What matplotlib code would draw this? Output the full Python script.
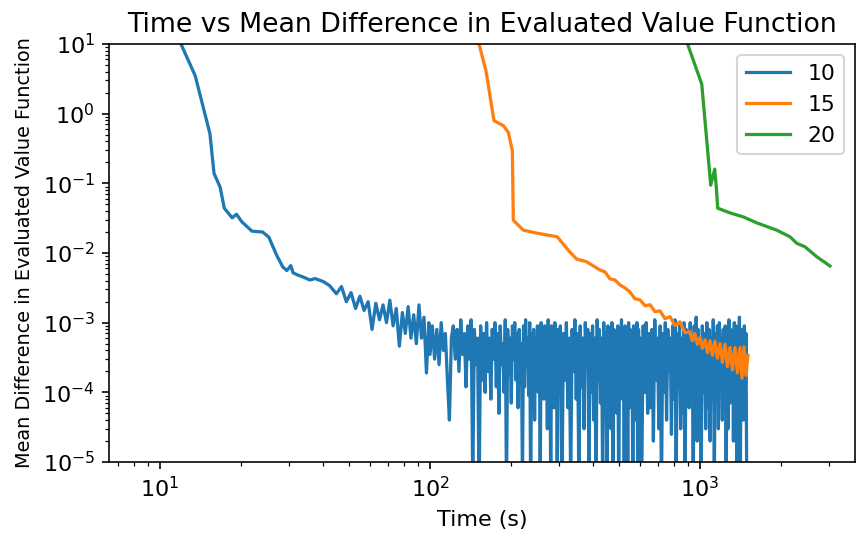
import numpy as np
import matplotlib
matplotlib.use("Agg")
import matplotlib.pyplot as plt

# series "10": smooth start ...
t10_start = [10.5, 11.5, 12.0, 13.5, 15.3, 15.85, 16.7, 17.3, 18.5, 19.2,
             20.1, 21.9, 24.0, 25.3, 27.0, 28.5, 29.5, 30.5, 31.1, 32.5,
             34.0, 35.9, 37.5, 40.2, 42.5]
v10_start = [40, 14, 9.7, 3.5, 0.52, 0.139, 0.088, 0.044, 0.032, 0.036,
             0.028, 0.0206, 0.0200, 0.0169, 0.0094, 0.0063, 0.0056, 0.0066, 0.0052, 0.0048,
             0.0045, 0.0041, 0.0043, 0.0039, 0.0034]

# ... then the noisy part, 45 s to 150 s
t10_mid = [45, 47, 49, 51, 53, 55, 57, 59, 61, 63, 65, 67, 69, 71,
           73, 75, 77, 79, 81, 83, 85, 87, 89, 91, 93, 95, 97, 99,
           100, 102, 104, 106, 108, 110, 112, 114, 116, 118,
           120, 122, 124, 126, 128, 130, 132, 134, 136, 138,
           140, 142, 144, 146, 148]
v10_mid = [2.6e-3, 3.3e-3, 2.0e-3, 2.7e-3, 1.6e-3, 2.4e-3, 1.5e-3, 2.0e-3, 0.8e-3, 1.9e-3,
           1.1e-3, 1.8e-3, 1.0e-3, 2.1e-3, 0.9e-3, 1.6e-3, 0.46e-3, 1.4e-3, 0.7e-3, 1.7e-3,
           0.6e-3, 1.3e-3, 0.5e-3, 1.8e-3, 0.6e-3, 1.2e-3, 0.19e-3, 1.0e-3,
           0.35e-3, 0.9e-3, 0.3e-3, 0.8e-3, 0.25e-3, 1.0e-3, 0.4e-3, 0.7e-3, 0.15e-3, 0.04e-3,
           0.6e-3, 0.9e-3, 0.3e-3, 0.8e-3, 0.2e-3, 1.1e-3, 0.35e-3, 0.7e-3, 0.12e-3, 0.9e-3,
           0.3e-3, 1.1e-3, 5e-6, 0.8e-3, 0.25e-3]

# ... and the dense noisy tail, 150 s to 1500 s
t10_tail = [150, 152, 154, 156, 158, 160, 162, 164, 166, 168,
            170, 172, 174, 176, 178, 180, 182, 184, 186, 188,
            190, 192, 194, 196, 198, 200, 202, 204, 206, 208,
            210, 212, 214, 216, 218, 220, 222, 224, 226, 228,
            230, 232, 234, 236, 238, 240, 242, 244, 246, 248,
            250, 252, 254, 256, 258, 260, 262, 264, 266, 268,
            270, 272, 274, 276, 278, 280, 282, 284, 286, 288,
            290, 292, 294, 296, 298,
            300, 304, 308, 312, 316, 320, 324, 328, 332, 336,
            340, 344, 348, 352, 356, 360, 364, 368, 372, 376,
            380, 384, 388, 392, 396, 400, 404, 408, 412, 416,
            420, 424, 428, 432, 436, 440, 444, 448, 452, 456,
            460, 464, 468, 472, 476, 480, 484, 488, 492, 496,
            500, 504, 508, 512, 516, 520, 524, 528, 532, 536,
            540, 544, 548, 552, 556, 560, 564, 568, 572, 576,
            580, 584, 588, 592, 596,
            600, 608, 616, 624, 632, 640, 648, 656, 664, 672,
            680, 688, 696, 704, 712, 720, 728, 736, 744, 752,
            760, 768, 776, 784, 792, 800, 808, 816, 824, 832,
            840, 848, 856, 864, 872, 880, 888, 896, 904, 912,
            920, 928, 936, 944, 952, 960, 968, 976, 984, 992,
            1000, 1010, 1020, 1030, 1040, 1050, 1060, 1070, 1080, 1090,
            1100, 1110, 1120, 1130, 1140, 1150, 1160, 1170, 1180, 1190,
            1200, 1210, 1220, 1230, 1240, 1250, 1260, 1270, 1280, 1290,
            1300, 1310, 1320, 1330, 1340, 1350, 1360, 1370, 1380, 1390,
            1400, 1410, 1420, 1430, 1440, 1450, 1460, 1470, 1480, 1490]
v10_tail = [6e-4, 3e-6, 9e-4, 1.5e-4, 7e-4, 1e-4, 1e-3, 2e-4, 6e-4, 8e-5,
            8e-4, 3e-4, 1e-3, 1.2e-4, 7e-4, 5e-5, 9e-4, 2.5e-4, 5e-4, 1e-4,
            1.1e-3, 4e-6, 8e-4, 1.8e-4, 6e-4, 7e-5, 9e-4, 3e-4, 1e-3, 1.5e-4,
            7e-4, 6e-5, 8e-4, 2e-4, 5e-4, 5e-6, 9e-4, 1.2e-4, 1.1e-3, 2.5e-4,
            6e-4, 9e-5, 1e-3, 3e-6, 7e-4, 1.5e-4, 8e-4, 4e-5, 6e-4, 2e-4,
            9e-4, 1e-4, 7e-4, 6e-6, 1e-3, 2.5e-4, 6e-4, 8e-5, 9e-4, 1.5e-4,
            8e-4, 3e-5, 1.1e-3, 2e-4, 6e-4, 4e-6, 9e-4, 1.2e-4, 7e-4, 6e-5,
            1e-3, 2e-4, 5e-4, 5e-6, 8e-4,
            1e-4, 9e-4, 3e-6, 7e-4, 1.5e-4, 1e-3, 6e-5, 6e-4, 5e-6, 8e-4,
            2e-4, 1.1e-3, 8e-5, 7e-4, 4e-6, 9e-4, 1.2e-4, 6e-4, 3e-5, 1e-3,
            2.5e-4, 8e-4, 6e-6, 7e-4, 1e-4, 9e-4, 4e-5, 6e-4, 3e-6, 1.1e-3,
            1.5e-4, 8e-4, 7e-5, 6e-4, 5e-6, 1e-3, 2e-4, 7e-4, 4e-6, 9e-4,
            1e-4, 6e-4, 3e-5, 1e-3, 6e-6, 8e-4, 1.8e-4, 7e-4, 5e-5, 9e-4,
            3e-6, 6e-4, 1.2e-4, 1.1e-3, 8e-5, 7e-4, 4e-6, 9e-4, 2e-4, 6e-4,
            5e-6, 1e-3, 6e-5, 8e-4, 1.5e-4, 7e-4, 3e-6, 9e-4, 1e-4, 6e-4,
            4e-5, 1e-3, 5e-6, 8e-4, 2e-4,
            6e-4, 4e-6, 9e-4, 1e-4, 1e-3, 5e-5, 7e-4, 6e-5, 8e-4, 2e-5,
            1.1e-3, 1.5e-4, 6e-4, 3e-5, 9e-4, 4e-6, 7e-4, 1e-4, 1e-3, 4e-5,
            8e-4, 2e-4, 6e-4, 2.5e-5, 9e-4, 8e-5, 1.1e-3, 5e-6, 7e-4, 1.2e-4,
            9e-4, 3e-5, 6e-4, 5e-5, 1e-3, 3e-6, 8e-4, 1.5e-4, 7e-4, 6e-5,
            1e-3, 1e-4, 6e-4, 4e-6, 9e-4, 7e-5, 1.2e-3, 2e-5, 8e-4, 2e-4,
            6e-4, 5e-6, 9e-4, 1e-4, 7e-4, 3e-5, 1e-3, 6e-5, 8e-4, 2e-5,
            6e-4, 1.5e-4, 1.1e-3, 6e-6, 7e-4, 8e-5, 9e-4, 3e-5, 1e-3, 2e-4,
            6e-4, 4e-5, 8e-4, 1e-4, 9e-4, 5e-6, 7e-4, 3e-5, 1.1e-3, 7e-5,
            8e-4, 1.2e-4, 6e-4, 2e-5, 1e-3, 7e-5, 9e-4, 4e-6, 7e-4, 1.5e-4,
            1.2e-3, 3e-6, 8e-4, 1e-4, 6e-4, 4e-5, 9e-4, 6e-5, 7e-4, 4e-6]

# series "15"
t15 = [148, 153, 161.2, 172.6, 186.8, 195.0, 201.8, 203.5, 221.6, 251.8,
       296, 325, 349, 380, 426, 445, 464, 484, 505, 527,
       550, 574, 599, 626, 653, 681, 711, 742, 774, 808,
       843, 879, 918, 937, 957, 978, 1000, 1021, 1044, 1066,
       1089, 1112, 1136, 1160, 1186, 1211, 1238, 1264, 1291, 1319,
       1348, 1376, 1406, 1430, 1455, 1480, 1506]
v15 = [13, 9.0, 4.11, 0.794, 0.674, 0.541, 0.296, 0.0296, 0.0213, 0.0191,
       0.0171, 0.0110, 0.0082, 0.0075, 0.00571, 0.00535, 0.00425, 0.00411, 0.00349, 0.00316,
       0.00277, 0.0022, 0.00213, 0.00175, 0.00181, 0.00144, 0.00148, 0.00114, 0.00122, 0.00091,
       0.00103, 0.00072, 7.4e-4, 5.5e-4, 7.0e-4, 4.9e-4, 6.1e-4, 4.3e-4, 5.7e-4, 3.7e-4,
       5.5e-4, 3.4e-4, 5.4e-4, 3.1e-4, 5.0e-4, 2.7e-4, 4.9e-4, 2.35e-4, 4.4e-4, 2.1e-4,
       4.4e-4, 1.9e-4, 4.4e-4, 1.6e-4, 4.5e-4, 1.75e-4, 3.4e-4]

# series "20"
t20 = [880, 905, 1015, 1096, 1134, 1150, 1163, 1291, 1446, 1622,
       1924, 2154, 2282, 2447, 2706, 3030]
v20 = [13, 9.36, 2.66, 0.094, 0.16, 0.085, 0.044, 0.0377, 0.033, 0.0271,
       0.0213, 0.0171, 0.0138, 0.0123, 0.00885, 0.00652]

t10 = t10_start + t10_mid + t10_tail
v10 = v10_start + v10_mid + v10_tail

fig = plt.figure(figsize=(856 / 146, 546 / 146), dpi=146)
ax = fig.add_subplot(111)
fig.subplots_adjust(left=0.1273, right=0.9988, top=0.9194, bottom=0.1538)

ax.plot(t10, v10, label='10', lw=1.6)
ax.plot(t15, v15, label='15', lw=1.6)
ax.plot(t20, v20, label='20', lw=1.6)

ax.set_xscale('log')
ax.set_yscale('log')
ax.set_xlim(6.47, 3750)
ax.set_ylim(1e-5, 1e1)
ax.set_title('Time vs Mean Difference in Evaluated Value Function', fontsize=13.2)
ax.set_xlabel('Time (s)', fontsize=11)
ax.set_ylabel('Mean Difference in Evaluated Value Function', fontsize=9.5)
ax.tick_params(labelsize=11)
ax.legend(loc='upper right', fontsize=10.8)

fig.savefig('out.png', dpi=146)
